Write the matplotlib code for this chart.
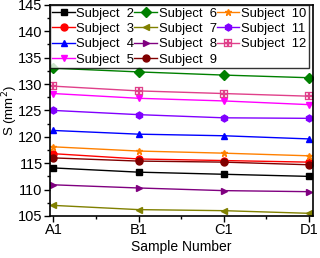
import matplotlib
matplotlib.use("Agg")
import matplotlib.pyplot as plt
from matplotlib.ticker import MultipleLocator, AutoMinorLocator

plt.rcParams['font.family'] = ['Liberation Sans', 'DejaVu Sans']

samples = ["A1", "B1", "C1", "D1"]
subjects = ["Subject  2", "Subject  3", "Subject  4", "Subject  5",
            "Subject  6", "Subject  7", "Subject  8", "Subject  9",
            "Subject  10", "Subject  11", "Subject  12"]
s2 = [114.1, 113.3, 112.9, 112.5]
s3 = [116.8, 115.8, 115.5, 115.2]
s4 = [121.2, 120.5, 120.2, 119.6]
s5 = [128.2, 127.3, 126.8, 126.1]
s6 = [133.0, 132.3, 131.7, 131.2]
s7 = [107.0, 106.2, 106.0, 105.5]
s8 = [110.9, 110.3, 109.8, 109.6]
s9 = [116.0, 115.4, 115.2, 114.7]
s10 = [118.1, 117.3, 116.9, 116.4]
s11 = [125.0, 124.2, 123.6, 123.5]
s12 = [129.6, 128.7, 128.2, 127.7]
series = [s2, s3, s4, s5, s6, s7, s8, s9, s10, s11, s12]

colors = ["#000000", "#ff0000", "#0000ff", "#ff00ff", "#008000", "#808000",
          "#800080", "#800000", "#ff8000", "#8000ff", "#e0408a"]
markers = ["s", "o", "^", "v", "D", "<", ">", "o", "*", "h", "s"]

fig = plt.figure(figsize=(3.2, 2.58), dpi=100)
ax = fig.add_axes([0.155, 0.163, 0.823, 0.818])

x = list(range(len(samples)))
for vals, lab, c, m in zip(series, subjects, colors, markers):
    if lab.endswith("12"):
        ax.plot(x, vals, color=c, lw=1.0, marker="$\\boxplus$", ms=6,
                markeredgewidth=0.2, label=lab)
    else:
        ax.plot(x, vals, color=c, lw=1.0, marker=m, ms=5, label=lab)

ax.set_xlim(-0.045, 3.05)
ax.set_ylim(105, 145)
ax.set_xticks(x)
ax.set_xticklabels(samples)
ax.xaxis.set_minor_locator(AutoMinorLocator(2))
ax.yaxis.set_major_locator(MultipleLocator(5))
ax.yaxis.set_minor_locator(MultipleLocator(2.5))
ax.tick_params(axis='both', which='major', labelsize=10.5, length=4, width=1, pad=1)
ax.tick_params(axis='both', which='minor', length=2, width=1)
for sp in ax.spines.values():
    sp.set_linewidth(1.2)

ax.set_xlabel("Sample Number", fontsize=10, labelpad=2)
ax.set_ylabel("S (mm$^2$)", fontsize=9.5)
ax.yaxis.set_label_coords(-0.113, 0.5)

leg = ax.legend(ncol=3, loc="upper left", bbox_to_anchor=(0.0, 1.0),
                fontsize=9.4, handlelength=1.75, handletextpad=0.1,
                columnspacing=0.0, labelspacing=0.25, borderpad=0.2,
                borderaxespad=0.0, frameon=True, fancybox=False)
leg.get_frame().set_edgecolor("black")
leg.get_frame().set_linewidth(1.0)

fig.savefig("out.png", dpi=100)
